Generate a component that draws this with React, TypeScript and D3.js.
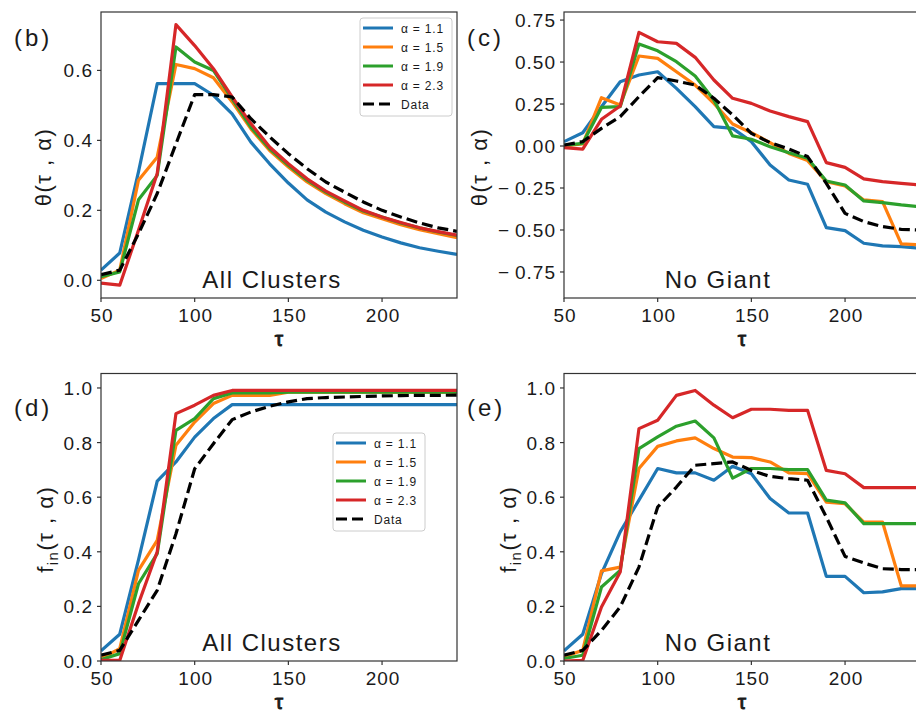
import React from 'react';
import * as d3 from 'd3';

const TAU = [50, 60, 70, 80, 90, 100, 110, 120, 130, 140, 150, 160, 170, 180, 190, 200, 210, 220, 230, 240];
const SERIES_LABELS = ['α = 1.1', 'α = 1.5', 'α = 1.9', 'α = 2.3', 'Data'];
const COLORS = ['#1f77b4', '#ff7f0e', '#2ca02c', '#d62728', '#000000'];
const X_TICKS = [50, 100, 150, 200];

// (b) theta, all clusters
const thetaAll11 = [0.029, 0.078, 0.31, 0.562, 0.562, 0.562, 0.529, 0.476, 0.395, 0.333, 0.278, 0.23, 0.195, 0.167, 0.143, 0.124, 0.107, 0.093, 0.083, 0.074];
const thetaAll15 = [0.005, 0.029, 0.286, 0.352, 0.617, 0.605, 0.579, 0.51, 0.433, 0.371, 0.324, 0.281, 0.248, 0.219, 0.193, 0.176, 0.159, 0.145, 0.133, 0.122];
const thetaAll19 = [0.01, 0.024, 0.23, 0.3, 0.667, 0.624, 0.6, 0.519, 0.438, 0.376, 0.329, 0.286, 0.252, 0.224, 0.198, 0.181, 0.164, 0.15, 0.138, 0.128];
const thetaAll23 = [-0.008, -0.014, 0.143, 0.305, 0.731, 0.671, 0.605, 0.524, 0.448, 0.381, 0.333, 0.29, 0.255, 0.227, 0.2, 0.181, 0.165, 0.15, 0.139, 0.129];
const thetaAllData = [0.016, 0.029, 0.133, 0.248, 0.39, 0.531, 0.531, 0.524, 0.462, 0.41, 0.362, 0.319, 0.281, 0.252, 0.224, 0.2, 0.181, 0.164, 0.15, 0.14];

// (c) theta, no giant
const thetaNoG11 = [0.026, 0.079, 0.234, 0.383, 0.423, 0.442, 0.343, 0.234, 0.115, 0.105, 0.026, -0.113, -0.202, -0.228, -0.486, -0.504, -0.579, -0.595, -0.599, -0.609];
const thetaNoG15 = [0.0, 0.012, 0.288, 0.244, 0.536, 0.522, 0.442, 0.363, 0.254, 0.131, 0.079, 0.02, -0.044, -0.087, -0.212, -0.238, -0.321, -0.331, -0.583, -0.589];
const thetaNoG19 = [0.004, 0.016, 0.23, 0.234, 0.607, 0.567, 0.502, 0.417, 0.274, 0.06, 0.04, -0.004, -0.04, -0.073, -0.208, -0.232, -0.327, -0.337, -0.351, -0.361];
const thetaNoG23 = [-0.01, -0.018, 0.159, 0.238, 0.677, 0.621, 0.611, 0.528, 0.393, 0.284, 0.254, 0.208, 0.175, 0.145, -0.099, -0.127, -0.196, -0.212, -0.222, -0.232];
const thetaNoGData = [0.006, 0.026, 0.105, 0.175, 0.294, 0.407, 0.387, 0.363, 0.284, 0.185, 0.075, 0.02, -0.018, -0.063, -0.222, -0.401, -0.45, -0.48, -0.496, -0.5];

// (d) f_in, all clusters
const finAll11 = [0.037, 0.098, 0.37, 0.659, 0.729, 0.82, 0.888, 0.939, 0.939, 0.939, 0.939, 0.939, 0.939, 0.939, 0.939, 0.939, 0.939, 0.939, 0.939, 0.939];
const finAll15 = [0.009, 0.045, 0.332, 0.442, 0.79, 0.875, 0.943, 0.973, 0.973, 0.973, 0.985, 0.985, 0.985, 0.985, 0.985, 0.985, 0.985, 0.985, 0.985, 0.985];
const finAll19 = [0.005, 0.027, 0.283, 0.393, 0.845, 0.888, 0.961, 0.982, 0.982, 0.982, 0.985, 0.985, 0.985, 0.985, 0.985, 0.985, 0.985, 0.985, 0.985, 0.985];
const finAll23 = [0.002, 0.002, 0.21, 0.4, 0.906, 0.937, 0.973, 0.991, 0.991, 0.991, 0.991, 0.991, 0.991, 0.991, 0.991, 0.991, 0.991, 0.991, 0.991, 0.991];
const finAllData = [0.021, 0.039, 0.149, 0.259, 0.466, 0.704, 0.796, 0.884, 0.912, 0.933, 0.949, 0.961, 0.965, 0.967, 0.969, 0.971, 0.972, 0.973, 0.973, 0.974];

// (e) f_in, no giant
const finNoG11 = [0.037, 0.098, 0.32, 0.473, 0.589, 0.705, 0.689, 0.689, 0.662, 0.713, 0.686, 0.595, 0.542, 0.542, 0.31, 0.31, 0.25, 0.253, 0.265, 0.265];
const finNoG15 = [0.015, 0.039, 0.33, 0.344, 0.705, 0.786, 0.806, 0.817, 0.778, 0.747, 0.745, 0.729, 0.689, 0.686, 0.582, 0.576, 0.509, 0.509, 0.275, 0.275];
const finNoG19 = [0.009, 0.021, 0.271, 0.332, 0.778, 0.821, 0.86, 0.879, 0.817, 0.67, 0.705, 0.705, 0.701, 0.701, 0.589, 0.579, 0.503, 0.503, 0.503, 0.503];
const finNoG23 = [0.0, 0.002, 0.198, 0.326, 0.851, 0.882, 0.973, 0.991, 0.937, 0.891, 0.922, 0.922, 0.918, 0.918, 0.698, 0.686, 0.635, 0.635, 0.635, 0.635];
const finNoGData = [0.021, 0.039, 0.112, 0.198, 0.344, 0.564, 0.637, 0.717, 0.723, 0.729, 0.698, 0.676, 0.668, 0.662, 0.527, 0.383, 0.359, 0.338, 0.335, 0.335];

const THETA_TICKS_ALL = [0, 0.2, 0.4, 0.6];
const THETA_TICKS_NOG = [-0.75, -0.5, -0.25, 0, 0.25, 0.5, 0.75];
const FIN_TICKS = [0, 0.2, 0.4, 0.6, 0.8, 1.0];

const FONT = "'Liberation Sans', Arial, sans-serif";
const TEXT = '#1a1a1a';

const Legend = ({ x, y }) => (
  <g transform={`translate(${x},${y})`}>
    <rect x={0} y={0} width={92} height={98} rx={3} fill="#fff" fillOpacity={0.85} stroke="#ccc" strokeWidth={1} />
    {SERIES_LABELS.map((lab, i) => (
      <g key={lab} transform={`translate(0,${10 + i * 19})`}>
        <line
          x1={3} x2={33} y1={0} y2={0}
          stroke={COLORS[i]} strokeWidth={3}
          strokeDasharray={i === 4 ? '11,5' : null}
        />
        <text x={41} y={4.5} fontSize={12} letterSpacing={0.8} fontFamily={FONT} fill={TEXT}>{lab}</text>
      </g>
    ))}
  </g>
);

const Panel = ({ id, left, top, width, height, yDomain, yTicks, yFmt, series, yLabel, yLabelX, tag, tagX, tagY, note, noteX, legend }) => {
  const x = d3.scaleLinear().domain([50, 240]).range([left, left + width]);
  const y = d3.scaleLinear().domain(yDomain).range([top + height, top]);
  const line = d3.line<number>().x((_, i) => x(TAU[i])).y((d) => y(d));
  const bottom = top + height;
  const midY = top + height / 2;

  return (
    <g>
      <clipPath id={id}>
        <rect x={left} y={top} width={width} height={height} />
      </clipPath>
      <g clipPath={`url(#${id})`}>
        {series.map((s, i) => (
          <path
            key={i}
            d={line(s)}
            fill="none"
            stroke={COLORS[i]}
            strokeWidth={3.2}
            strokeLinejoin="round"
            strokeDasharray={i === 4 ? '11,5' : null}
          />
        ))}
      </g>
      <rect x={left} y={top} width={width} height={height} fill="none" stroke="#333" strokeWidth={1.2} />
      {yTicks.map((t) => (
        <g key={t}>
          <line x1={left - 4} x2={left} y1={y(t)} y2={y(t)} stroke="#333" strokeWidth={1.2} />
          <text x={left - 8} y={y(t) + 7} textAnchor="end" fontSize={19} letterSpacing={1} fontFamily={FONT} fill={TEXT}>
            {yFmt(t)}
          </text>
        </g>
      ))}
      {X_TICKS.map((t) => (
        <g key={t}>
          <line x1={x(t)} x2={x(t)} y1={bottom} y2={bottom + 4} stroke="#333" strokeWidth={1.2} />
          <text x={x(t) + 1} y={bottom + 23.5} textAnchor="middle" fontSize={19} letterSpacing={1} fontFamily={FONT} fill={TEXT}>
            {t}
          </text>
        </g>
      ))}
      <text
        x={left + width / 2} y={bottom + 47.5} textAnchor="middle" fontSize={21}
        stroke={TEXT} strokeWidth={0.9} fontFamily={FONT} fill={TEXT}
      >
        τ
      </text>
      <text
        transform={`translate(${yLabelX},${midY + 12}) rotate(-90)`}
        textAnchor="middle" fontSize={22} letterSpacing={1.5} fontFamily={FONT} fill={TEXT}
      >
        {yLabel}
      </text>
      <text x={tagX} y={tagY} fontSize={24} letterSpacing={3} fontFamily={FONT} fill={TEXT}>{tag}</text>
      <text x={noteX} y={bottom - 10} textAnchor="middle" fontSize={24} letterSpacing={1.5} fontFamily={FONT} fill={TEXT}>{note}</text>
      {legend ? <Legend x={legend[0]} y={legend[1]} /> : null}
    </g>
  );
};

const fmt1 = d3.format('.1f');
const fmt2 = (v: number) => {
  const s = d3.format('.2f')(Math.abs(v));
  return v < 0 ? `\u2212\u2009${s}` : s;
};

const thetaLabel = 'θ(τ , α)';
const finLabel = (
  <>
    f<tspan fontSize={15} dy={5}>in</tspan><tspan dy={-5}>(τ , α)</tspan>
  </>
);

export default function App() {
  return (
    <svg width={916} height={713} style={{ position: 'absolute', left: 0, top: 0, background: '#fff' }}>
      <rect width={916} height={713} fill="#fff" />
      <Panel
        id="pb" left={101} top={12} width={356} height={286}
        yDomain={[-0.0506, 0.767]} yTicks={THETA_TICKS_ALL} yFmt={fmt1}
        series={[thetaAll11, thetaAll15, thetaAll19, thetaAll23, thetaAllData]}
        yLabel={thetaLabel} yLabelX={51} tag="(b)" tagX={14} tagY={46}
        note="All Clusters" noteX={272} legend={[360, 18]}
      />
      <Panel
        id="pc" left={564} top={12} width={356} height={286}
        yDomain={[-0.905, 0.798]} yTicks={THETA_TICKS_NOG} yFmt={fmt2}
        series={[thetaNoG11, thetaNoG15, thetaNoG19, thetaNoG23, thetaNoGData]}
        yLabel={thetaLabel} yLabelX={487} tag="(c)" tagX={467} tagY={46}
        note="No Giant" noteX={718} legend={null}
      />
      <Panel
        id="pd" left={101} top={373.5} width={356} height={287.5}
        yDomain={[0, 1.053]} yTicks={FIN_TICKS} yFmt={fmt1}
        series={[finAll11, finAll15, finAll19, finAll23, finAllData]}
        yLabel={finLabel} yLabelX={53} tag="(d)" tagX={14} tagY={416}
        note="All Clusters" noteX={272} legend={[333, 433]}
      />
      <Panel
        id="pe" left={564} top={373.5} width={356} height={287.5}
        yDomain={[0, 1.053]} yTicks={FIN_TICKS} yFmt={fmt1}
        series={[finNoG11, finNoG15, finNoG19, finNoG23, finNoGData]}
        yLabel={finLabel} yLabelX={516} tag="(e)" tagX={467} tagY={416}
        note="No Giant" noteX={718} legend={null}
      />
    </svg>
  );
}
